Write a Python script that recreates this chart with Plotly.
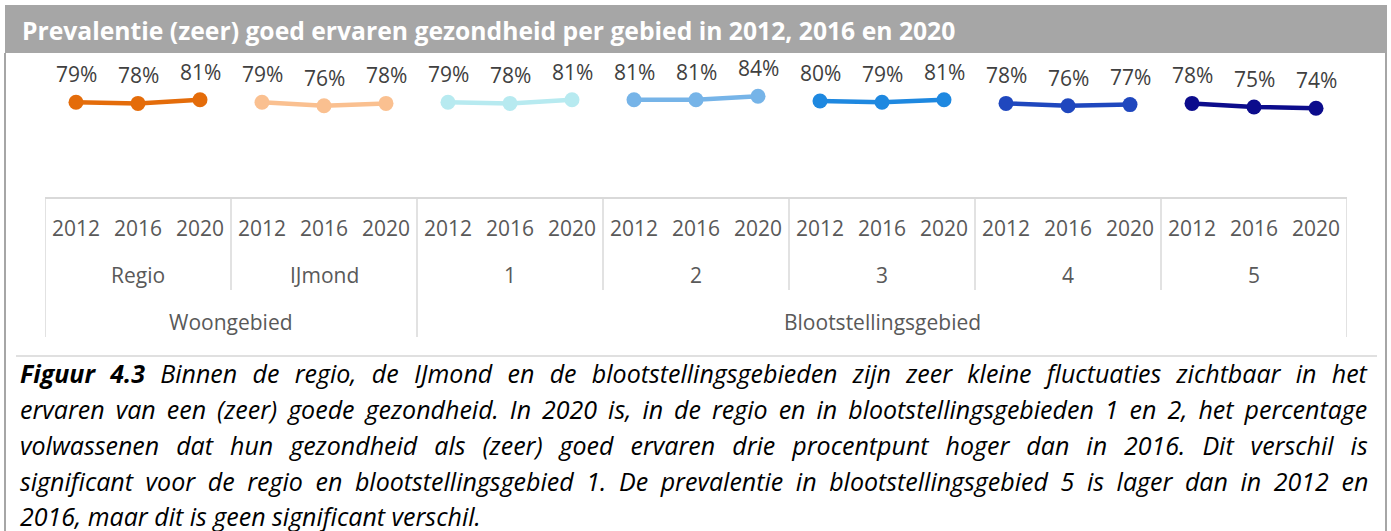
import plotly.graph_objects as go

# ---------------- data ----------------
years = ["2012", "2016", "2020"]
groups = ["Regio", "IJmond", "1", "2", "3", "4", "5"]
supergroups = ["Woongebied", "Blootstellingsgebied"]
supergroup_sizes = [2, 5]
values = {
    "Regio": [79, 78, 81],
    "IJmond": [79, 76, 78],
    "1": [79, 78, 81],
    "2": [81, 81, 84],
    "3": [80, 79, 81],
    "4": [78, 76, 77],
    "5": [78, 75, 74],
}
colors = {
    "Regio": "#E46C0A",
    "IJmond": "#FAC090",
    "1": "#B7EAF0",
    "2": "#76B4E8",
    "3": "#1E88E0",
    "4": "#1F47BE",
    "5": "#0C0C8C",
}
title = "Prevalentie (zeer) goed ervaren gezondheid per gebied in 2012, 2016 en 2020"
caption_lines = [
    "<b>Figuur 4.3</b> Binnen de regio, de IJmond en de blootstellingsgebieden zijn zeer kleine fluctuaties zichtbaar in het",
    "ervaren van een (zeer) goede gezondheid. In 2020 is, in de regio en in blootstellingsgebieden 1 en 2, het percentage",
    "volwassenen dat hun gezondheid als (zeer) goed ervaren drie procentpunt hoger dan in 2016. Dit verschil is",
    "significant voor de regio en blootstellingsgebied 1. De prevalentie in blootstellingsgebied 5 is lager dan in 2012 en",
    "2016, maar dit is geen significant verschil.",
]
# extra word spacing (px) that imitates the justified paragraph
caption_wordspacing = [8.8, 4.5, 10.5, 6.1, 0]

# ---------------- layout geometry ----------------
W, H = 1391, 531
L, R, T, B = 45, 1347, 77, 197  # plot area in pixels


def xp(px):
    return (px - L) / (R - L)


def yp(py):
    return (B - py) / (B - T)


FONT = "Open Sans"
fig = go.Figure()

n = len(years)
for gi, g in enumerate(groups):
    xs = [gi * n + k for k in range(n)]
    fig.add_trace(go.Scatter(
        x=xs, y=values[g], mode="lines+markers",
        line=dict(color=colors[g], width=4.5),
        marker=dict(color=colors[g], size=15),
        hoverinfo="skip", showlegend=False,
    ))
    for x, v in zip(xs, values[g]):
        fig.add_annotation(x=x, y=v, xref="x", yref="y", text=f"{v}%",
                           showarrow=False, yshift=28,
                           font=dict(family=FONT, size=21, color="#404040"))

annotations_style = dict(showarrow=False, font=dict(family=FONT, size=21, color="#595959"))
# year labels
for gi, g in enumerate(groups):
    for k, yv in enumerate(years):
        fig.add_annotation(x=gi * n + k, y=yp(228), xref="x", yref="paper",
                           text=yv, yanchor="middle", **annotations_style)
    fig.add_annotation(x=gi * n + 1, y=yp(275), xref="x", yref="paper",
                       text=g, yanchor="middle", **annotations_style)

start = 0
sep3 = [-0.5]
for sg, size in zip(supergroups, supergroup_sizes):
    centre = start * n + (size * n - 1) / 2
    fig.add_annotation(x=centre, y=yp(322), xref="x", yref="paper",
                       text=sg, yanchor="middle", **annotations_style)
    start += size
    sep3.append(start * n - 0.5)

shapes = []
grid = "#D9D9D9"
# level-2 separators
for gi in range(len(groups) + 1):
    shapes.append(dict(type="line", xref="x", yref="paper",
                       x0=gi * n - 0.5, x1=gi * n - 0.5, y0=yp(197), y1=yp(290),
                       line=dict(color=grid, width=1.5)))
for s in sep3:
    shapes.append(dict(type="line", xref="x", yref="paper",
                       x0=s, x1=s, y0=yp(290), y1=yp(337),
                       line=dict(color=grid, width=1.5)))
# title bar
shapes.append(dict(type="rect", xref="paper", yref="paper",
                   x0=xp(5), x1=xp(1387), y0=yp(53), y1=yp(5),
                   fillcolor="#A6A6A6", line=dict(width=0), layer="below"))
# outer borders
for bx in (5, 1386):
    shapes.append(dict(type="line", xref="paper", yref="paper",
                       x0=xp(bx), x1=xp(bx), y0=yp(53), y1=yp(531),
                       line=dict(color="#A6A6A6", width=2)))
# caption separator
shapes.append(dict(type="line", xref="paper", yref="paper",
                   x0=xp(16), x1=xp(1377), y0=yp(356), y1=yp(356),
                   line=dict(color="#E0E0E0", width=2)))

fig.add_annotation(x=xp(20), y=yp(30), xref="paper", yref="paper", xanchor="left",
                   yanchor="middle", showarrow=False, text=f"<b>{title}</b>",
                   font=dict(family=FONT, size=24.7, color="white"))

caption_y = [373, 409, 445, 481, 516]
for line, cy, ws in zip(caption_lines, caption_y, caption_wordspacing):
    txt = f"<i>{line}</i>"
    if ws:
        txt = f"<span style='word-spacing:{ws}px'>{txt}</span>"
    fig.add_annotation(x=xp(18), y=yp(cy), xref="paper", yref="paper", xanchor="left",
                       yanchor="middle", showarrow=False, text=txt,
                       font=dict(family=FONT, size=25, color="black"))

fig.update_layout(
    width=W, height=H,
    margin=dict(l=L, r=W - R, t=T, b=H - B, pad=0),
    paper_bgcolor="white", plot_bgcolor="white",
    shapes=shapes,
    xaxis=dict(range=[-0.5, len(groups) * n - 0.5], showgrid=False, zeroline=False,
               showticklabels=False, ticks="", showline=True, linecolor=grid, linewidth=1.5,
               fixedrange=True),
    yaxis=dict(range=[0, 100], showgrid=False, zeroline=False, showticklabels=False,
               ticks="", showline=False, fixedrange=True),
)

fig.write_html("out.html", config={"displayModeBar": False},
               post_script="document.body.style.margin='0px';")
